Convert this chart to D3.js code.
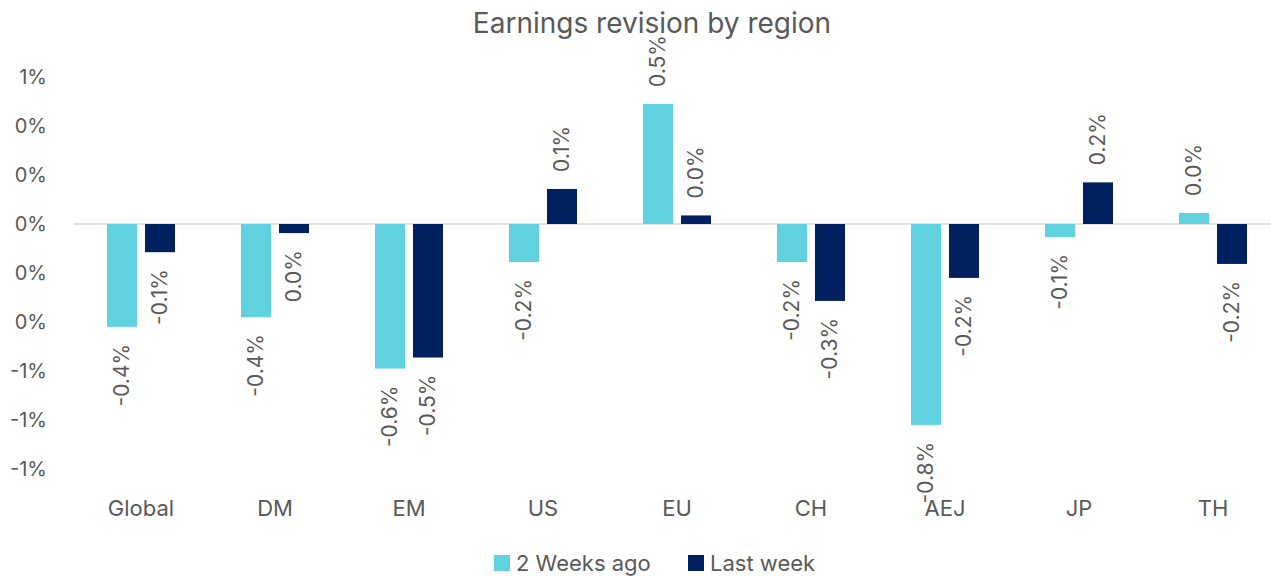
<!DOCTYPE html>
<html>
<head>
<meta charset="utf-8">
<script src="https://cdn.jsdelivr.net/npm/d3@7"></script>
<style>
  body { margin: 0; background: #fff; }
  svg { display: block; font-family: Inter, "Open Sans", sans-serif; }
</style>
</head>
<body>
<svg id="chart" width="1271" height="576"></svg>
<script>
// === Data (values in %) ===
const regions = ['Global', 'DM', 'EM', 'US', 'EU', 'CH', 'AEJ', 'JP', 'TH'];
const twoWeeksAgo = [-0.42, -0.38, -0.59, -0.155, 0.49, -0.155, -0.82, -0.053, 0.045];
const lastWeek = [-0.115, -0.037, -0.545, 0.143, 0.035, -0.314, -0.22, 0.17, -0.163];
const yTicks = [0.6, 0.4, 0.2, 0, -0.2, -0.4, -0.6, -0.8, -1.0];
const seriesNames = ['2 Weeks ago', 'Last week'];
const colors = ['#5fd1df', '#002060'];

const svg = d3.select('#chart');
const textColor = '#595959';

const x = d3.scaleBand().domain(regions).range([74, 1280]);
const inner = d3.scaleBand().domain(seriesNames).range([33, 101]).paddingInner(0.21);
const y = d3.scaleLinear().domain([-1.0, 0.6]).range([469, 77]);

const tickFmt = v => { const r = Math.round(v); return (r === 0 ? 0 : r) + '%'; };
const labelFmt = v => { const r = Math.round(v * 10) / 10; return (r === 0 ? 0 : r).toFixed(1) + '%'; };

// Title
svg.append('text')
    .attr('x', 652).attr('y', 33)
    .attr('text-anchor', 'middle')
    .attr('font-size', 28)
    .attr('fill', textColor)
    .text('Earnings revision by region');

// Y axis labels (no axis line)
svg.append('g').selectAll('text')
    .data(yTicks)
    .enter().append('text')
    .attr('x', 47)
    .attr('y', d => y(d))
    .attr('dy', '0.35em')
    .attr('text-anchor', 'end')
    .attr('font-size', 20)
    .attr('fill', textColor)
    .text(tickFmt);

// Zero line
svg.append('line')
    .attr('x1', 74).attr('x2', 1271)
    .attr('y1', y(0)).attr('y2', y(0))
    .attr('stroke', '#d9d9d9').attr('stroke-width', 1.5);

// Bars
const rows = regions.map((r, i) => ({ region: r, values: [twoWeeksAgo[i], lastWeek[i]] }));
const groups = svg.append('g').selectAll('g')
    .data(rows)
    .enter().append('g')
    .attr('transform', d => `translate(${x(d.region)},0)`);

const cells = groups.selectAll('g')
    .data(d => d.values.map((v, k) => ({ v, k })))
    .enter().append('g');

cells.append('rect')
    .attr('x', d => inner(seriesNames[d.k]))
    .attr('width', inner.bandwidth())
    .attr('y', d => Math.min(y(d.v), y(0)))
    .attr('height', d => Math.abs(y(d.v) - y(0)))
    .attr('fill', d => colors[d.k]);

// Data labels, rotated
cells.append('text')
    .attr('transform', d => {
        const cx = inner(seriesNames[d.k]) + inner.bandwidth() / 2;
        const cy = d.v >= 0 ? y(d.v) - 17 : y(d.v) + 17;
        return `translate(${cx},${cy}) rotate(-90)`;
    })
    .attr('text-anchor', d => d.v >= 0 ? 'start' : 'end')
    .attr('dy', '0.35em')
    .attr('font-size', 21)
    .attr('fill', textColor)
    .text(d => labelFmt(d.v));

// Category labels
svg.append('g').selectAll('text')
    .data(regions)
    .enter().append('text')
    .attr('x', d => x(d) + x.bandwidth() / 2)
    .attr('y', 508)
    .attr('dy', '0.35em')
    .attr('text-anchor', 'middle')
    .attr('font-size', 22)
    .attr('fill', textColor)
    .text(d => d);

// Legend
const legendX = [494, 688];
const legend = svg.append('g').selectAll('g')
    .data(seriesNames)
    .enter().append('g')
    .attr('transform', (d, i) => `translate(${legendX[i]},555)`);
legend.append('rect')
    .attr('width', 16).attr('height', 16)
    .attr('fill', (d, i) => colors[i]);
legend.append('text')
    .attr('x', 22).attr('y', 8)
    .attr('dy', '0.35em')
    .attr('font-size', 22)
    .attr('fill', textColor)
    .text(d => d);
</script>
</body>
</html>
